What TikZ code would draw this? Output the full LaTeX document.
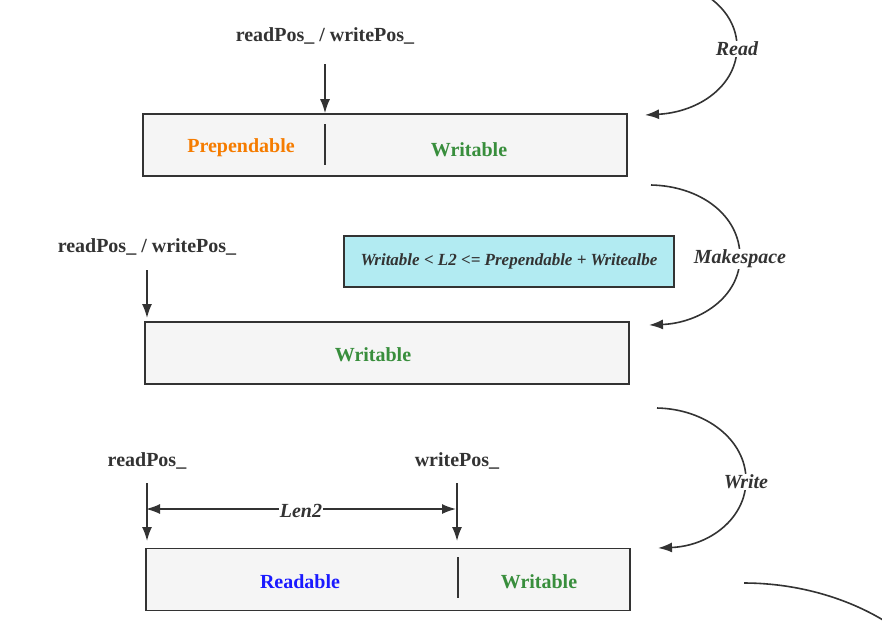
\documentclass[tikz,border=0pt]{standalone}
\usepackage{fontspec}
\setmainfont{Liberation Serif}
\usetikzlibrary{arrows.meta}
\definecolor{lineGray}{HTML}{333333}
\definecolor{bufFill}{HTML}{F5F5F5}
\definecolor{condCyan}{HTML}{B2EBF2}
\definecolor{prepOrange}{HTML}{F57C00}
\definecolor{writeGreen}{HTML}{388E3C}
\definecolor{readBlue}{HTML}{1A1AFF}
\begin{document}
\begin{tikzpicture}[x=1pt, y=-1pt,
  buf/.style={draw=lineGray, line width=1.6pt, fill=bufFill, minimum width=484pt, minimum height=62pt, inner sep=0pt},
  ptrlabel/.style={font=\fontsize{20}{23}\selectfont\bfseries, text=lineGray, yshift=-2pt},
  part/.style={font=\fontsize{20}{23}\selectfont\bfseries, yshift=-2pt},
  op/.style={font=\fontsize{20}{23}\selectfont\bfseries\itshape, text=lineGray, fill=white, inner sep=1pt, yshift=-2pt},
  ptr/.style={draw=lineGray, line width=1.6pt, -{Latex[length=14pt,width=10pt]}},
  sep/.style={draw=lineGray, line width=1.6pt}]
\path[use as bounding box, clip] (0,0) rectangle (882,638);

% First buffer: after Read
\node[buf] (buf1) at (385,145) {};
\node[part, text=prepOrange] (prep1) at (241,146) {Prependable};
\node[part, text=writeGreen] (write1) at (469,148) {Writable};
\draw[sep] (325,124) -- (325,165);
\node[ptrlabel] (rw1) at (325,34) {readPos\_ / writePos\_};
\coordinate (rw1tail) at (325,64);
\draw[ptr] (rw1tail) -- (rw1tail |- buf1.north);

% Second buffer: after Makespace
\node[buf] (buf2) at (387,353) {};
\node[part, text=writeGreen] (write2) at (373,353) {Writable};
\node[ptrlabel] (rw2) at (147,245) {readPos\_ / writePos\_};
\coordinate (rw2tail) at (147,270);
\coordinate (rw2head) at (147,318);
\draw[ptr] (rw2tail) -- (rw2head);
\node[draw=lineGray, line width=1.6pt, fill=condCyan, minimum width=330pt, minimum height=51pt,
  font=\fontsize{17}{20}\selectfont\bfseries\itshape, text=lineGray] (cond) at (509,261.5)
  {\raisebox{-2pt}{Writable < L2 <= Prependable + Writealbe}};

% Third buffer: after Write
\node[buf] (buf3) at (388,579.5) {};
\node[part, text=readBlue] (read3) at (300,580) {Readable};
\node[part, text=writeGreen] (write3) at (539,580) {Writable};
\draw[sep] (458,557) -- (458,598);
\node[ptrlabel] (rd3) at (147,459) {readPos\_};
\node[ptrlabel] (wr3) at (457,459) {writePos\_};
\coordinate (rd3tail) at (147,483);
\coordinate (rd3head) at (147,541);
\coordinate (wr3tail) at (457,483);
\coordinate (wr3head) at (457,541);
\draw[ptr] (rd3tail) -- (rd3head);
\draw[ptr] (wr3tail) -- (wr3head);
\coordinate (lenL) at (146,509);
\coordinate (lenR) at (456,509);
\draw[ptr, {Latex[length=14pt,width=10pt]}-{Latex[length=14pt,width=10pt]}] (lenL) -- node[op] (len2) {Len2} (lenR);

% Steps between buffers
\coordinate (readA) at (648,-21);
\coordinate (readB) at (645,115);
\draw[ptr] (readA) .. controls (700,-20) and (737,10) .. (737,47) node[op] (readop) {Read}
  .. controls (737,85) and (700,112) .. (readB);
\coordinate (makeA) at (651,185);
\coordinate (makeB) at (649,325);
\draw[ptr] (makeA) .. controls (700,186) and (740,215) .. (740,257) node[op] (makeop) {Makespace}
  .. controls (740,297) and (700,323) .. (makeB);
\coordinate (wrA) at (657,408);
\coordinate (wrB) at (658,548);
\draw[ptr] (wrA) .. controls (706,409) and (746,440) .. (746,480) node[op] (wrop) {Write}
  .. controls (746,518) and (710,546) .. (wrB);
\coordinate (nextA) at (744,583);
\coordinate (nextB) at (905,635);
\draw[sep] (nextA) .. controls (800,583) and (860,600) .. (nextB);
\end{tikzpicture}
\end{document}
